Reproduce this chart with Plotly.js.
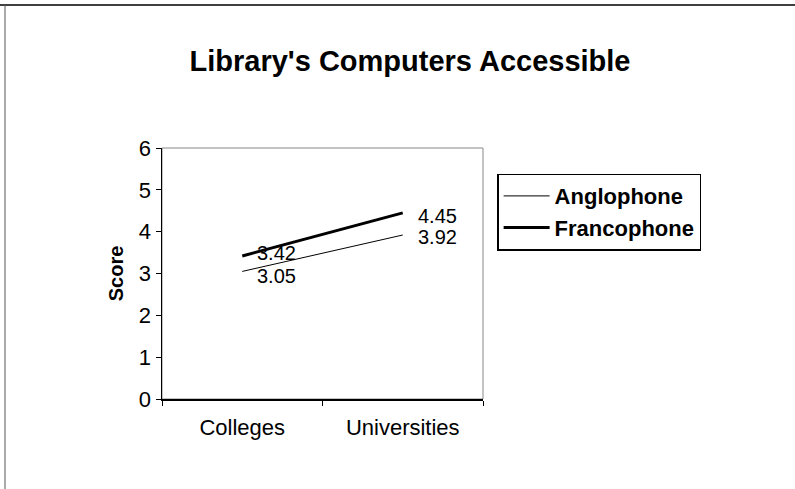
<!DOCTYPE html>
<html><head><meta charset="utf-8">
<script src="https://cdn.plot.ly/plotly-3.0.1.min.js"></script>
<style>html,body{margin:0;padding:0;background:#fff}#chart{width:795px;height:489px}</style>
</head><body><div id="chart"></div>
<script>
var categories = ["Colleges", "Universities"];
var anglophone = [3.05, 3.92];
var francophone = [3.42, 4.45];
var seriesNames = ["Anglophone", "Francophone"];
var yTicks = [0, 1, 2, 3, 4, 5, 6];

var FONT = "Liberation Sans, Arial, sans-serif";
var series = [anglophone, francophone];
var widths = [1, 3];
var traces = series.map(function (vals, i) {
  return {x: categories, y: vals, name: seriesNames[i], type: "scatter", mode: "lines",
          line: {color: "#000", width: widths[i]}, hoverinfo: "skip"};
});
var annotations = [];
series.forEach(function (vals, i) {
  vals.forEach(function (v, j) {
    annotations.push({xref: "x", yref: "y", x: categories[j], y: v, text: v.toFixed(2),
      showarrow: false, xanchor: "left", yanchor: "middle", xshift: 13,
      yshift: (i === 1) ? (j === 0 ? 3 : -3) : (j === 0 ? -5 : -2),
      font: {family: FONT, size: 20, color: "#000"}});
  });
});
var layout = {
  width: 795, height: 489,
  margin: {l: 162, r: 312, t: 148, b: 90},
  paper_bgcolor: "#fff", plot_bgcolor: "#fff",
  font: {family: FONT, color: "#000"},
  title: {text: "<b>Library's Computers Accessible</b>", font: {family: FONT, size: 29, color: "#000"},
          x: 410/795, xanchor: "center", y: 1 - 61/489, yanchor: "middle"},
  xaxis: {type: "category", range: [-0.5, 1.5], tickson: "boundaries", ticks: "outside", ticklen: 5,
          tickcolor: "#000", showline: true, linecolor: "#000", linewidth: 1.5, showgrid: false,
          zeroline: false, ticklabelstandoff: 8, tickfont: {family: FONT, size: 22, color: "#000"}},
  yaxis: {range: [0, 6], tickvals: yTicks, ticks: "outside", ticklen: 5, tickcolor: "#000",
          showline: true, linecolor: "#000", linewidth: 1.5, showgrid: false, zeroline: false,
          tickfont: {family: FONT, size: 22, color: "#000"},
          title: {text: "<b>Score</b>", font: {family: FONT, size: 20, color: "#000"}, standoff: 10}},
  showlegend: true,
  legend: {x: 1.044, xanchor: "left", y: 0.898, yanchor: "top", bordercolor: "#000", borderwidth: 1.5,
           bgcolor: "#fff", font: {family: FONT, size: 22, color: "#000", weight: "bold"},
           tracegroupgap: 0, itemwidth: 46},
  annotations: annotations,
  shapes: [
    {type: "rect", xref: "paper", yref: "paper", x0: 0, x1: 1, y0: 0, y1: 1, line: {color: "#888", width: 1}, layer: "below"},
    {type: "line", xref: "paper", yref: "paper", x0: -162/321, x1: 633/321, y0: 1 + 143/251, y1: 1 + 143/251, line: {color: "#000", width: 1.5}},
    {type: "line", xref: "paper", yref: "paper", x0: -157/321, x1: -157/321, y0: 1 + 143/251, y1: -90/251, line: {color: "#555", width: 1}}
  ]
};
Plotly.newPlot("chart", traces, layout, {displayModeBar: false, staticPlot: true});
</script></body></html>
